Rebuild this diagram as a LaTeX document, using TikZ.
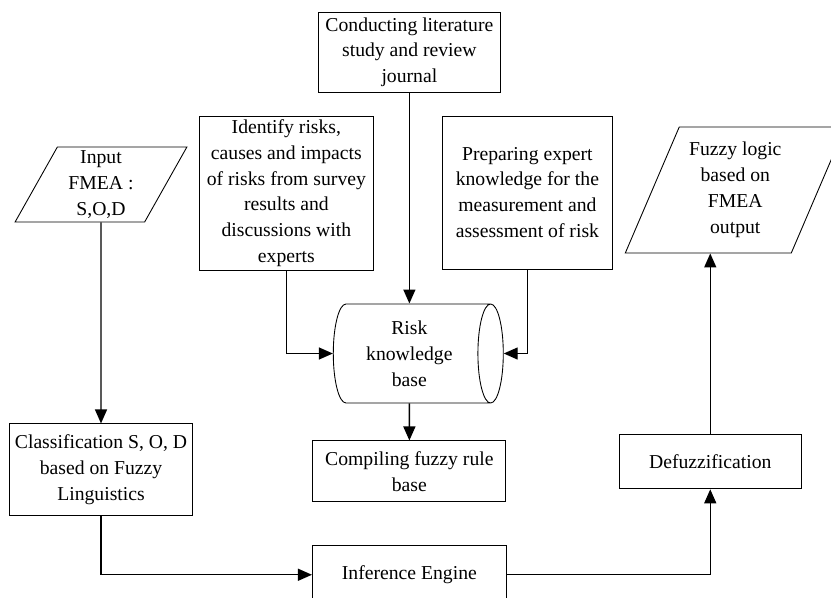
\documentclass[tikz,border=0pt]{standalone}
\usepackage{fontspec}
\setmainfont{Liberation Serif}
\usetikzlibrary{arrows.meta,positioning,shapes.geometric}
\tikzset{
  font=\fontsize{11.2}{14.7}\selectfont,
  block/.style={
    draw,
    align=center,
    inner sep=2pt,
    line width=.5pt
  },
  procblock/.style={block, rectangle},
  ioblock/.style={block, trapezium, trapezium left angle=65,
    trapezium right angle=115, trapezium stretches=true, inner sep=0pt},
  storeblock/.style={block, cylinder, shape aspect=.35},
  arrow/.style={-{Triangle[length=2.8mm,width=2.4mm]}, line width=.8pt}
}
\begin{document}
\begin{tikzpicture}
  \useasboundingbox (0,0) rectangle (166.2mm,-119.4mm);

  \node[ioblock, minimum width=34.4mm, minimum height=15mm] (inputp)
    at (20.2mm,-36.9mm) {Input\\FMEA :\\S,O,D};
  \node[procblock, below=40.2mm of inputp, minimum width=36.6mm,
        minimum height=18.4mm] (classif)
    {Classification S, O, D\\based on Fuzzy\\Linguistics};
  \node[procblock, below right=5.8mm and 23.8mm of classif,
        minimum width=38.8mm, minimum height=11.6mm] (infer)
    {Inference Engine};
  \node[procblock, above=8.6mm of infer, minimum width=38.6mm,
        minimum height=12.2mm] (rulebase) {Compiling fuzzy rule\\base};
  % cylinder: width and height are taken along its axis
  \node[storeblock, above=7.4mm of rulebase, minimum width=19.8mm,
        minimum height=34mm] (riskkb) {Risk\\knowledge\\base};
  \node[procblock, above=42.2mm of riskkb, minimum width=36.4mm,
        minimum height=16mm] (literature)
    {Conducting literature\\study and review\\journal};
  \node[procblock, below=4.6mm of literature, xshift=-24.6mm,
        minimum width=34.8mm, minimum height=30.6mm] (identify)
    {Identify risks,\\causes and impacts\\of risks from survey\\results and\\discussions with\\experts};
  \node[procblock, below=4.6mm of literature, xshift=23.6mm,
        minimum width=34mm, minimum height=30.6mm] (expert)
    {Preparing expert\\knowledge for the\\measurement and\\assessment of risk};
  \node[procblock, above right=11.2mm and 22.4mm of infer,
        minimum width=36.4mm, minimum height=10.8mm] (defuzz)
    {Defuzzification};
  \node[ioblock, above=36.2mm of defuzz, xshift=5mm, minimum width=44mm,
        minimum height=25.2mm] (output) {Fuzzy logic\\based on\\FMEA\\output};

  \draw[arrow] (literature) -- (literature |- riskkb.north);
  \draw[arrow] (riskkb) -- (rulebase);
  \draw[arrow] (identify) |- (riskkb);
  \draw[arrow] (expert) |- (riskkb);
  \draw[arrow] (inputp) -- (classif);
  \draw[arrow] (classif) |- (infer);
  \draw[arrow] (infer) -| (defuzz);
  \draw[arrow] (defuzz) -- (defuzz |- output.south);
\end{tikzpicture}
\end{document}
